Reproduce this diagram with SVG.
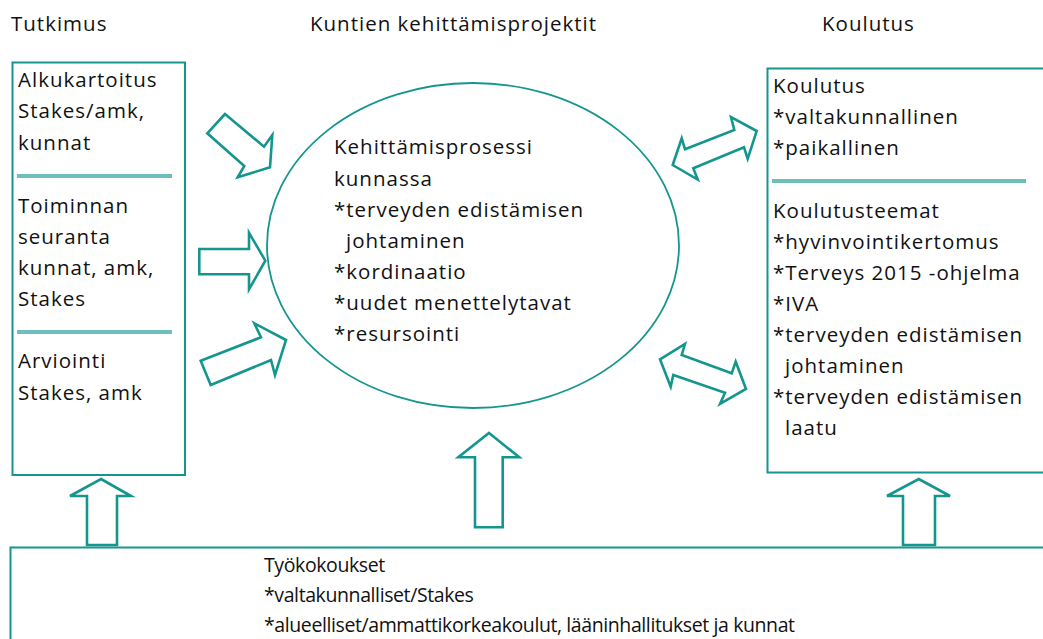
<svg xmlns="http://www.w3.org/2000/svg" width="1043" height="639" viewBox="0 0 1043 639">
<style>
text{font-family:"Open Sans","Noto Sans","Liberation Sans",sans-serif;font-size:20.5px;letter-spacing:1px;fill:#111}
.bt{font-size:19.5px;letter-spacing:-0.4px}
.box{fill:none;stroke:#14968f;stroke-width:2}
.sep{stroke:#6dbfbb;stroke-width:4}
.arr{fill:#fff;stroke:#14968f;stroke-width:2.6;stroke-linejoin:miter}
</style>
<rect width="1043" height="639" fill="#fff"/>
<g id="headers">
<text x="11" y="31">Tutkimus</text>
<text x="310" y="31">Kuntien kehittämisprojektit</text>
<text x="822" y="31">Koulutus</text>
</g>
<g id="tutkimus">
<rect class="box" x="12.5" y="62.5" width="172.5" height="412.5"/>
<line class="sep" x1="17" y1="176" x2="172" y2="176"/>
<line class="sep" x1="17" y1="332" x2="172" y2="332"/>
<text x="18" y="87">Alkukartoitus</text>
<text x="18" y="118">Stakes/amk,</text>
<text x="18" y="150">kunnat</text>
<text x="18" y="213">Toiminnan</text>
<text x="18" y="244">seuranta</text>
<text x="18" y="275">kunnat, amk,</text>
<text x="18" y="306">Stakes</text>
<text x="18" y="368">Arviointi</text>
<text x="18" y="400">Stakes, amk</text>
</g>
<g id="kehittamisprosessi">
<ellipse cx="473" cy="245.5" rx="206" ry="162.5" fill="none" stroke="#14968f" stroke-width="1.8"/>
<text x="334" y="154">Kehittämisprosessi</text>
<text x="334" y="186">kunnassa</text>
<text x="334" y="217">*terveyden edistämisen</text>
<text x="346" y="248">johtaminen</text>
<text x="334" y="279">*kordinaatio</text>
<text x="334" y="310">*uudet menettelytavat</text>
<text x="334" y="341">*resursointi</text>
</g>
<g id="koulutus">
<rect class="box" x="767.5" y="68.5" width="290" height="404"/>
<line class="sep" x1="772" y1="181" x2="1026" y2="181"/>
<text x="773" y="93">Koulutus</text>
<text x="773" y="124">*valtakunnallinen</text>
<text x="773" y="155">*paikallinen</text>
<text x="773" y="218">Koulutusteemat</text>
<text x="773" y="249">*hyvinvointikertomus</text>
<text x="773" y="280">*Terveys 2015 -ohjelma</text>
<text x="773" y="311">*IVA</text>
<text x="773" y="342">*terveyden edistämisen</text>
<text x="785" y="373">johtaminen</text>
<text x="773" y="404">*terveyden edistämisen</text>
<text x="785" y="435">laatu</text>
</g>
<g id="tyokokoukset">
<rect class="box" x="10.5" y="547.5" width="1050" height="110"/>
<text class="bt" x="264" y="572">Työkokoukset</text>
<text class="bt" x="264" y="602">*valtakunnalliset/Stakes</text>
<text class="bt" x="264" y="632">*alueelliset/ammattikorkeakoulut, lääninhallitukset ja kunnat</text>
</g>
<g id="connectors">
<polygon class="arr" points="225,114 207.3,133.3 244.3,166 237.7,177.3 270,167.3 272.3,135 264,146.7"/>
<polygon class="arr" points="199.3,249 249,249 249,232.7 265.3,260.7 249,289.3 249,274.3 199.3,274.3"/>
<polygon class="arr" points="210.7,385 200.7,360.7 261,337.3 254.3,323.3 286,340 275,375 271,360"/>
<polygon class="arr" points="672.7,165 681.7,138.3 685,149.3 734.3,130 731,117 756.7,131 747.7,158.8 744,147.3 693.3,168.3 697.7,179.5"/>
<polygon class="arr" points="660,359.3 685,344 681.7,355 731.7,373.3 735.7,361.7 746,389 720,404 725,392.7 673.3,375 670.7,386.7"/>
<polygon class="arr" points="101,479 131,496 117,496 117,545 87,545 87,496 70,496"/>
<polygon class="arr" points="489,433 519.3,457.3 502.7,457.3 502.7,527.3 475,527.3 475,457.3 458.3,457.3"/>
<polygon class="arr" points="918.7,479 950,496 935,496 935,545 903,545 903,496 887,496"/>
</g>
</svg>
